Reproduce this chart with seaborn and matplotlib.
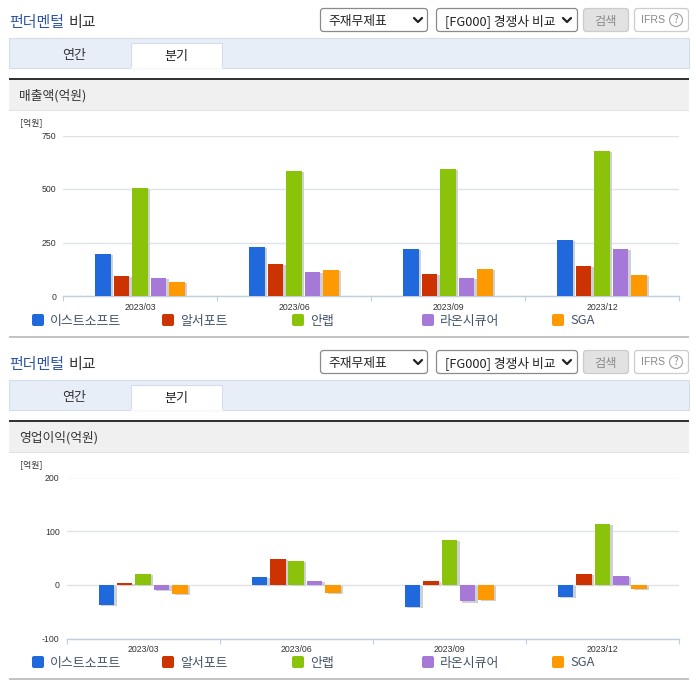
import pandas as pd
import seaborn as sns
import matplotlib.pyplot as plt
import matplotlib.patheffects as pe
from matplotlib.patches import Rectangle, FancyBboxPatch, Circle

periods = ['2023/03', '2023/06', '2023/09', '2023/12']
companies = ['이스트소프트', '알서포트', '안랩', '라온시큐어', 'SGA']
colors = ['#1f69dc', '#cc3300', '#8bc30a', '#a678d8', '#ff9900']

# 매출액
sales_east = [196, 229, 219, 261]
sales_rsupport = [93, 149, 103, 140]
sales_ahnlab = [504, 583, 593, 677]
sales_raon = [84, 112, 84, 219]
sales_sga = [65, 121, 126, 98]

# 영업이익
profit_east = [-38, 14, -41, -23]
profit_rsupport = [3, 49, 7, 20]
profit_ahnlab = [21, 44, 83, 114]
profit_raon = [-10, 7, -31, 16]
profit_sga = [-17, -15, -28, -7]

sales_ticks = [0, 250, 500, 750]
profit_ticks = [-100, 0, 100, 200]

sns.set_style('white')
plt.rcParams['font.family'] = ['Noto Sans CJK KR', 'DejaVu Sans']
plt.rcParams['axes.unicode_minus'] = False

W, H = 696, 684
fig = plt.figure(figsize=(W / 100, H / 100), dpi=100, facecolor='white')

# page chrome, drawn in pixel coordinates
bg = fig.add_axes([0, 0, 1, 1])
bg.set_xlim(0, W)
bg.set_ylim(H, 0)
bg.axis('off')


def box(x0, y0, x1, y1, face, edge='none', lw=0.8, round_=0):
    if round_:
        p = FancyBboxPatch((x0 + round_, y0 + round_), x1 - x0 - 2 * round_, y1 - y0 - 2 * round_,
                           boxstyle=f'round,pad={round_},rounding_size={round_}',
                           facecolor=face, edgecolor=edge, linewidth=lw)
    else:
        p = Rectangle((x0, y0), x1 - x0, y1 - y0, facecolor=face, edgecolor=edge, linewidth=lw)
    bg.add_patch(p)


def chevron(x, y):
    bg.plot([x - 4, x, x + 4], [y - 2, y + 2, y - 2], color='#222222', lw=1.6)


def draw_chrome(dy, header):
    bg.text(9.5, 23 + dy, '펀더멘털', color='#2f55a8', fontsize=10.8, va='center', fontweight='medium')
    bg.text(68, 23 + dy, '비교', color='#333333', fontsize=10.8, va='center', fontweight='medium')
    # selects and buttons
    box(320.5, 8.5 + dy, 427.5, 31.5 + dy, 'white', '#8a8a8a', 0.9, 3)
    bg.text(328, 21 + dy, '주재무제표', fontsize=9.2, color='#222222', va='center')
    chevron(418, 20 + dy)
    box(436.5, 8.5 + dy, 577.5, 31.5 + dy, 'white', '#8a8a8a', 0.9, 3)
    bg.text(445, 21 + dy, '[FG000] 경쟁사 비교', fontsize=9.2, color='#222222', va='center')
    chevron(567, 20 + dy)
    box(583.5, 8.5 + dy, 628.5, 31.5 + dy, '#e2e2e2', '#cccccc', 0.9, 3)
    bg.text(606, 21 + dy, '검색', fontsize=8.8, color='#8a8a8a', va='center', ha='center')
    box(634.5, 8.5 + dy, 688.5, 31.5 + dy, 'white', '#cccccc', 0.9, 3)
    bg.text(641, 20 + dy, 'IFRS', fontsize=7.6, color='#888888', va='center', family='Liberation Sans')
    bg.add_patch(Circle((676, 20 + dy), 6.5, facecolor='white', edgecolor='#aaaaaa', lw=0.9))
    bg.text(676, 20 + dy, '?', fontsize=7, color='#888888', va='center', ha='center')
    # tabs
    box(9, 38 + dy, 689, 67.5 + dy, '#e8eef8', '#d5dde8', 0.8)
    box(131, 43 + dy, 222, 68 + dy, 'white', '#d5dde8', 0.8)
    bg.plot([131.5, 221.5], [68 + dy, 68 + dy], color='white', lw=1.2)
    bg.text(74, 55.5 + dy, '연간', fontsize=9.4, color='#333333', ha='center', va='center')
    bg.text(176, 56.5 + dy, '분기', fontsize=9.4, color='#222222', ha='center', va='center')
    # section header
    box(9, 80 + dy, 689, 110 + dy, '#f0f0f0')
    box(9, 78 + dy, 689, 80 + dy, '#333333')
    box(9, 110 + dy, 689, 111 + dy, '#e2e2e2')
    bg.text(19, 96 + dy, header, fontsize=9.2, color='#333333', va='center')
    bg.text(20, 123 + dy, '[억원]', fontsize=6.4, color='#333333', va='center')
    # legend
    for i, (name, c) in enumerate(zip(companies, colors)):
        x = 32 + 130 * i
        box(x, 314 + dy, x + 12, 326 + dy, c, round_=2)
        bg.text(x + 18, 321 + dy, name, fontsize=9.3, color='#44546a', va='center')
    box(9, 336 + dy, 689, 338 + dy, '#c4c4c4')


def draw_chart(series, ticks, left, top, right, bottom):
    ax = fig.add_axes([left / W, 1 - bottom / H, (right - left) / W, (bottom - top) / H])
    ax.patch.set_alpha(0)
    df = pd.DataFrame({
        'period': periods * len(companies),
        'company': [c for c in companies for _ in periods],
        'value': [v for s in series for v in s],
    })
    sns.barplot(data=df, x='period', y='value', hue='company', palette=colors, order=periods,
                hue_order=companies, width=0.6, gap=0.16, saturation=1, linewidth=0,
                legend=False, ax=ax, zorder=3)
    for bar in ax.patches:
        bar.set_path_effects([pe.SimplePatchShadow(offset=(1.8, -0.8), shadow_rgbFace='#cdd0d4', alpha=1),
                              pe.Normal()])
    ax.set_xlim(-0.5, 3.5)
    ax.set_ylim(ticks[0], ticks[-1])
    ax.set_xlabel('')
    ax.set_ylabel('')
    for side in ['top', 'left', 'right']:
        ax.spines[side].set_visible(False)
    ax.spines['bottom'].set_color('#c0cfdf')
    ax.spines['bottom'].set_linewidth(1)
    ax.set_yticks(ticks)
    ax.set_yticklabels([str(t) for t in ticks], fontsize=6.3, color='#333333', family='Liberation Sans')
    ax.tick_params(axis='y', length=0, pad=5)
    ax.grid(axis='y', color='#dfe3e8', lw=1)
    ax.set_axisbelow(True)
    ax.set_xticks([-0.5, 0.5, 1.5, 2.5, 3.5])
    ax.set_xticklabels([])
    ax.tick_params(axis='x', which='major', length=3.5, width=0.8, color='#c0cfdf', bottom=True)
    ax.set_xticks(range(len(periods)), minor=True)
    ax.set_xticklabels(periods, minor=True, fontsize=6.3, color='#333333', family='Liberation Sans')
    ax.tick_params(axis='x', which='minor', length=0, pad=4.8, bottom=True)
    return ax


draw_chrome(0, '매출액(억원)')
draw_chrome(342, '영업이익(억원)')
draw_chart([sales_east, sales_rsupport, sales_ahnlab, sales_raon, sales_sga],
           sales_ticks, 63, 135.5, 679, 296)
draw_chart([profit_east, profit_rsupport, profit_ahnlab, profit_raon, profit_sga],
           profit_ticks, 66.5, 477.5, 679, 638.5)

fig.savefig('out.png', dpi=100)
